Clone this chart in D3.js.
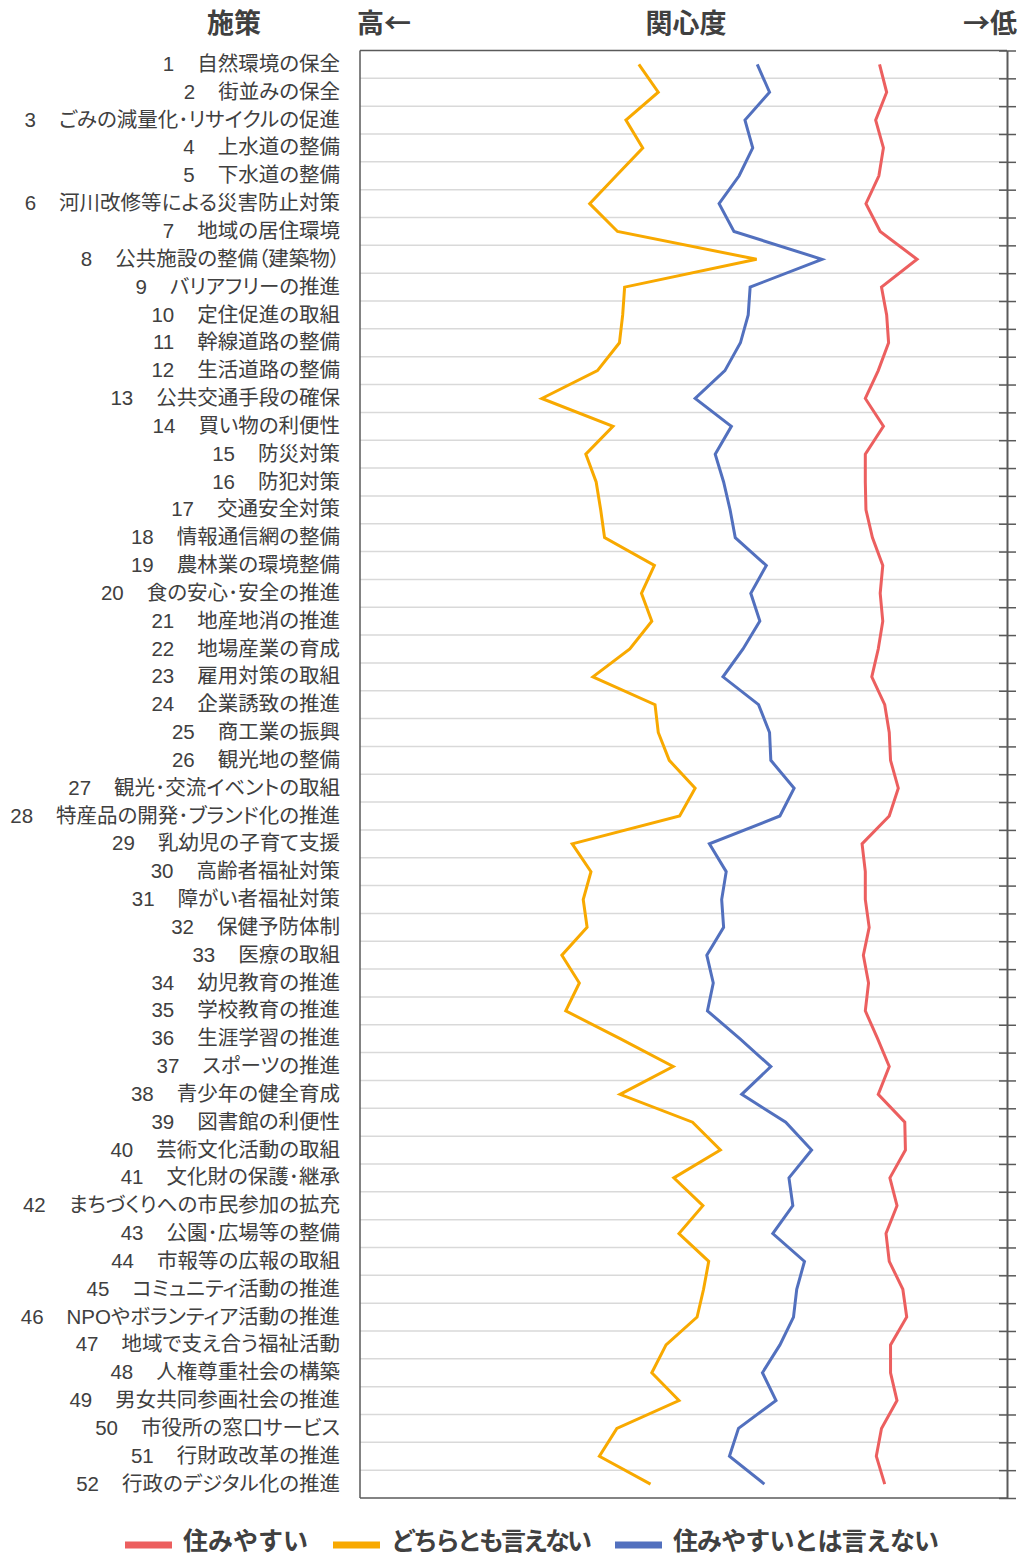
<!DOCTYPE html>
<html lang="ja">
<head>
<meta charset="utf-8">
<script src="https://cdn.jsdelivr.net/npm/d3@7"></script>
<style>
  html, body { margin: 0; padding: 0; background: #fff; }
  svg { display: block; }
  text { fill: #404040; }
  .labels text { font-family: "Liberation Sans", "Noto Sans CJK JP", sans-serif; font-feature-settings: "palt"; }
  .head text, .legend text { font-family: "Noto Sans CJK JP", sans-serif; font-weight: 700; }
</style>
</head>
<body>
<svg id="chart" width="1021" height="1557"></svg>
<script>
// 施策の一覧（番号・名称）
const categories = [
  "自然環境の保全", "街並みの保全", "ごみの減量化･リサイクルの促進", "上水道の整備",
  "下水道の整備", "河川改修等による災害防止対策", "地域の居住環境", "公共施設の整備（建築物）",
  "バリアフリーの推進", "定住促進の取組", "幹線道路の整備", "生活道路の整備",
  "公共交通手段の確保", "買い物の利便性", "防災対策", "防犯対策",
  "交通安全対策", "情報通信網の整備", "農林業の環境整備", "食の安心･安全の推進",
  "地産地消の推進", "地場産業の育成", "雇用対策の取組", "企業誘致の推進",
  "商工業の振興", "観光地の整備", "観光･交流イベントの取組", "特産品の開発･ブランド化の推進",
  "乳幼児の子育て支援", "高齢者福祉対策", "障がい者福祉対策", "保健予防体制",
  "医療の取組", "幼児教育の推進", "学校教育の推進", "生涯学習の推進",
  "スポーツの推進", "青少年の健全育成", "図書館の利便性", "芸術文化活動の取組",
  "文化財の保護･継承", "まちづくりへの市民参加の拡充", "公園･広場等の整備", "市報等の広報の取組",
  "コミュニティ活動の推進", "NPOやボランティア活動の推進", "地域で支え合う福祉活動", "人権尊重社会の構築",
  "男女共同参画社会の推進", "市役所の窓口サービス", "行財政改革の推進", "行政のデジタル化の推進"
];

// 関心度の指標（左ほど関心が高い）
const sumiyasui = [
  80.3, 81.4, 79.7, 80.9, 80.2, 78.2, 80.4, 86.1, 80.6, 81.4,
  81.7, 80.1, 78.1, 80.9, 78.1, 78.1, 78.2, 79.2, 80.8, 80.4,
  80.8, 80.1, 79.1, 81.1, 81.8, 82.0, 83.2, 81.8, 77.6, 78.1,
  78.1, 78.7, 77.8, 78.6, 78.1, 80.0, 81.8, 80.1, 84.2, 84.3,
  81.9, 83.0, 81.3, 81.8, 83.9, 84.5, 82.0, 82.0, 83.0, 80.6,
  79.8, 81.1
];
const dochiratomo = [
  43.1, 46.1, 41.1, 43.7, 39.6, 35.5, 39.8, 61.3, 40.9, 40.6,
  40.1, 36.7, 28.1, 39.1, 34.9, 36.5, 37.2, 37.8, 45.5, 43.5,
  45.1, 41.7, 36.0, 45.6, 46.1, 47.8, 51.8, 49.4, 32.8, 35.7,
  34.5, 35.1, 31.2, 33.9, 31.8, 40.2, 48.4, 40.2, 51.4, 55.7,
  48.5, 53.0, 49.3, 53.9, 53.1, 52.1, 47.3, 45.1, 49.3, 39.7,
  37.0, 44.9
];
const sumiyasuiToha = [
  61.4, 63.3, 59.5, 60.7, 58.6, 55.5, 57.8, 71.4, 60.3, 60.0,
  58.8, 56.4, 51.8, 57.4, 54.9, 56.2, 57.2, 58.0, 62.8, 60.4,
  61.8, 59.2, 56.1, 61.6, 63.3, 63.5, 67.1, 64.9, 54.0, 56.6,
  55.9, 56.2, 53.6, 54.6, 53.7, 58.7, 63.5, 59.0, 65.8, 69.8,
  66.3, 66.9, 63.8, 68.7, 67.5, 67.0, 64.9, 62.2, 64.3, 58.5,
  57.1, 62.5
];

const seriesNames = ["住みやすい", "どちらとも言えない", "住みやすいとは言えない"];
const seriesColors = ["#EC5F5F", "#F8A900", "#5270BE"];
const seriesValues = [sumiyasui, dochiratomo, sumiyasuiToha];

const headerLabels = { col: "施策", high: "高←", title: "関心度", low: "→低" };

const svg = d3.select("#chart");
const plotLeft = 360, plotRight = 1007, plotTop = 50.5, plotBottom = 1498;

const x = d3.scaleLinear().domain([0, 100]).range([plotLeft, plotRight]);
const y = d3.scaleBand().domain(d3.range(categories.length)).range([plotTop, plotBottom]).padding(0);
const yEdge = d3.scaleLinear().domain([0, categories.length]).range([plotTop, plotBottom]);
const bw = y.bandwidth();

// 行の区切り線
svg.append("g")
  .selectAll("line")
  .data(d3.range(1, categories.length))
  .join("line")
  .attr("x1", plotLeft).attr("x2", plotRight)
  .attr("y1", d => yEdge(d)).attr("y2", d => yEdge(d))
  .attr("stroke", "#d9d9d9").attr("stroke-width", 1.5);

// 枠線（左・上・下）
const frame = svg.append("g").attr("stroke", "#5a5a5a").attr("stroke-width", 1.5);
frame.append("line").attr("x1", plotLeft).attr("x2", plotLeft).attr("y1", plotTop).attr("y2", plotBottom);
frame.append("line").attr("x1", plotLeft).attr("x2", plotRight).attr("y1", plotTop).attr("y2", plotTop);
frame.append("line").attr("x1", plotLeft).attr("x2", plotRight).attr("y1", plotBottom).attr("y2", plotBottom);

// 右側の目盛り軸
svg.append("g")
  .attr("transform", `translate(${plotRight},0)`)
  .call(d3.axisRight(yEdge).tickValues(d3.range(categories.length + 1)).tickFormat("").tickSizeOuter(0))
  .call(g => g.select(".domain").attr("stroke", "#5a5a5a").attr("stroke-width", 2))
  .call(g => g.selectAll(".tick line").attr("x1", -8).attr("x2", 9).attr("stroke", "#5a5a5a").attr("stroke-width", 1.5));

// 施策名（番号と名称）
svg.append("g")
  .attr("class", "labels")
  .attr("transform", `translate(${plotLeft},0)`)
  .call(d3.axisLeft(y).tickSize(0).tickPadding(20).tickFormat(""))
  .call(g => g.select(".domain").remove())
  .call(g => g.selectAll(".tick text")
    .attr("font-size", 20.5)
    .attr("font-family", null)
    .attr("fill", "#404040")
    .each(function (i) {
      const t = d3.select(this);
      t.append("tspan").text(String(i + 1));
      t.append("tspan").attr("dx", 23).text(categories[i]);
    }));

// 折れ線
const line = d3.line()
  .x(d => x(d))
  .y((d, i) => y(i) + bw / 2);

seriesValues.forEach((vals, k) => {
  svg.append("path")
    .datum(vals)
    .attr("fill", "none")
    .attr("stroke", seriesColors[k])
    .attr("stroke-width", 3)
    .attr("stroke-linejoin", "miter")
    .attr("d", line);
});

// 見出し
const head = svg.append("g").attr("class", "head").attr("font-size", 27);
head.append("text").attr("x", 234).attr("y", 33).attr("text-anchor", "middle").text(headerLabels.col);
head.append("text").attr("x", 357).attr("y", 33).attr("text-anchor", "start").text(headerLabels.high);
head.append("text").attr("x", 686).attr("y", 33).attr("text-anchor", "middle").text(headerLabels.title);
head.append("text").attr("x", 1017).attr("y", 33).attr("text-anchor", "end").text(headerLabels.low);

// 凡例
const legendX = [125, 333, 615];
const legendSpacing = [0, -3, -0.9];
const legend = svg.append("g").attr("class", "legend");
seriesNames.forEach((name, k) => {
  const g = legend.append("g").attr("transform", `translate(${legendX[k]},1545)`);
  g.append("line").attr("x1", 0).attr("x2", 47).attr("y1", 0).attr("y2", 0)
    .attr("stroke", seriesColors[k]).attr("stroke-width", 7);
  g.append("text").attr("x", 58).attr("y", 4.5).attr("font-size", 25)
    .style("letter-spacing", `${legendSpacing[k]}px`)
    .text(name);
});
</script>
</body>
</html>
